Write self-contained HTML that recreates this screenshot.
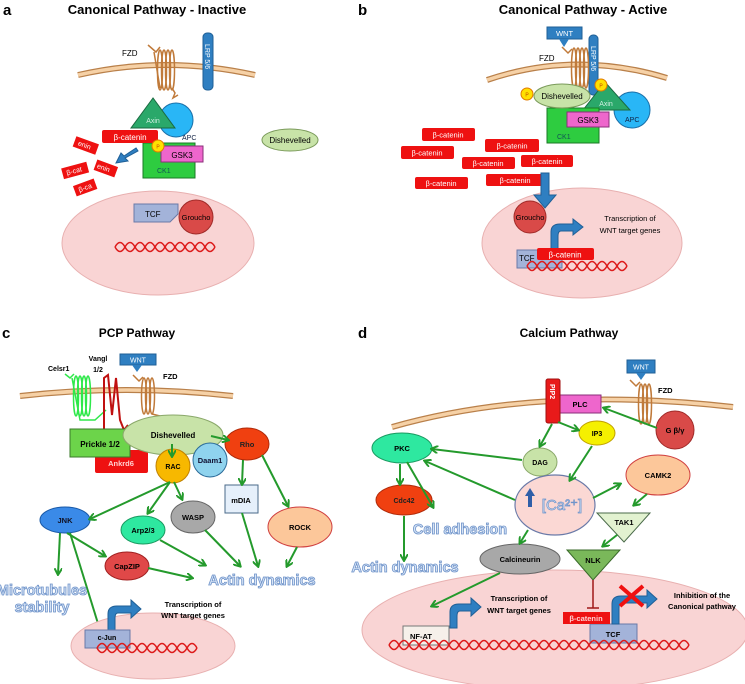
<!DOCTYPE html>
<html><head><meta charset="utf-8"><style>
html,body{margin:0;padding:0;background:#fff}
svg{display:block}
text{font-family:"Liberation Sans",sans-serif}
.b{font-weight:bold}
.ad{font-weight:bold;font-size:14.5px;fill:#d6e4f7;stroke:#6f93c9;stroke-width:.8}
.g{stroke:#249a2c;stroke-width:2;fill:none;marker-end:url(#ah)}
.dna{fill:none;stroke:#dd1a1a;stroke-width:1.5}
</style></head><body>
<svg width="745" height="684" viewBox="0 0 745 684" xmlns="http://www.w3.org/2000/svg">
<defs>
<marker id="ah" markerWidth="8" markerHeight="8" refX="6" refY="4" orient="auto" markerUnits="userSpaceOnUse"><path d="M0,0 L7,4 L0,8" fill="none" stroke="#249a2c" stroke-width="2"/></marker>
<path id="w10" d="M0,0 q5,-9 10,0 t10,0 t10,0 t10,0 t10,0 t10,0 t10,0 t10,0 t10,0 t10,0"/>
<path id="w10b" d="M0,0 q5,9 10,0 t10,0 t10,0 t10,0 t10,0 t10,0 t10,0 t10,0 t10,0 t10,0"/>
</defs>

<!-- ===== Panel a ===== -->
<text x="3" y="15" class="b" font-size="15">a</text>
<text x="157" y="14" class="b" font-size="13" text-anchor="middle">Canonical Pathway - Inactive</text>
<path d="M78,75 Q165,55 255,75" stroke="#b9804a" stroke-width="6" fill="none"/>
<path d="M78,75 Q165,55 255,75" stroke="#f6d1a6" stroke-width="3.5" fill="none"/>
<text x="122" y="56" font-size="8">FZD</text>
<g fill="none" stroke="#c07a3a" stroke-width="1.5">
<path d="M148,45 L156,52 L160,47"/>
<ellipse cx="160" cy="70" rx="2.5" ry="20"/><ellipse cx="164" cy="70" rx="2.5" ry="20"/><ellipse cx="168" cy="70" rx="2.5" ry="20"/><ellipse cx="172" cy="70" rx="2.5" ry="20"/>
<path d="M154,52 L160,88 M172,88 L175,93 L173,98 L178,95"/>
</g>
<rect x="203" y="33" width="10" height="57" rx="4" fill="#2f7fc1" stroke="#1f5f96"/>
<text transform="translate(205,44) rotate(90)" font-size="7" fill="#fff">LRP 5/6</text>
<circle cx="176" cy="120" r="17" fill="#29b6f6" stroke="#1a6fa8"/>
<polygon points="153,98 131,128 175,128" fill="#2aa86a" stroke="#1a6a40"/>
<text x="153" y="123" font-size="7" fill="#cfeee0" text-anchor="middle">Axin</text>
<rect x="143" y="143" width="52" height="35" fill="#2ecc40" stroke="#1b7a26"/>
<text x="157" y="173" font-size="7" fill="#155">CK1</text>
<rect x="161" y="146" width="42" height="16" fill="#ee66cc" stroke="#8a2f7a"/>
<text x="182" y="158" font-size="8" text-anchor="middle">GSK3</text>
<text x="182" y="140" font-size="7" fill="#124">APC</text>
<rect x="102" y="130" width="56" height="13" rx="2" fill="#ee1111"/>
<text x="130" y="140" font-size="8" fill="#fff" text-anchor="middle">β-catenin</text>
<circle cx="158" cy="146" r="6" fill="#ffe000" stroke="#e07a00"/>
<text x="158" y="148.5" font-size="5" text-anchor="middle" fill="#c04000">P</text>
<path d="M136,148 L124,156 L121,153 L116,163 L128,161 L125,158 L138,151 Z" fill="#2f7fc1" stroke="#1f5f96"/>
<g fill="#ee1111"><rect x="74" y="140" width="24" height="11" transform="rotate(20 86 145)"/><rect x="62" y="165" width="26" height="11" transform="rotate(-15 75 170)"/><rect x="95" y="163" width="22" height="11" transform="rotate(20 106 168)"/><rect x="74" y="182" width="22" height="11" transform="rotate(-20 85 187)"/></g>
<g font-size="7" fill="#fff"><text x="78" y="148" transform="rotate(20 86 145)">enin</text><text x="66" y="173" transform="rotate(-15 75 170)">β-cat</text><text x="97" y="171" transform="rotate(20 106 168)">enin</text><text x="78" y="190" transform="rotate(-20 85 187)">β-ca</text></g>
<ellipse cx="290" cy="140" rx="28" ry="11" fill="#c8e3a8" stroke="#7a9a5a"/>
<text x="290" y="143" font-size="8" text-anchor="middle">Dishevelled</text>
<ellipse cx="158" cy="243" rx="96" ry="52" fill="#f9d4d4" stroke="#e8b0b0"/>
<path d="M134,204 L178,204 L178,214 L170,222 L134,222 Z" fill="#a3b3d9" stroke="#6a7aa8"/>
<text x="145" y="217" font-size="8">TCF</text>
<circle cx="196" cy="217" r="17" fill="#d94a48" stroke="#a02a28"/>
<text x="196" y="220" font-size="7.5" text-anchor="middle">Groucho</text>
<g class="dna" transform="translate(115,247)"><use href="#w10"/><use href="#w10b"/></g>

<!-- ===== Panel b ===== -->
<text x="358" y="15" class="b" font-size="15">b</text>
<text x="583" y="14" class="b" font-size="13" text-anchor="middle">Canonical Pathway - Active</text>
<path d="M487,80 Q575,50 667,78" stroke="#b9804a" stroke-width="6" fill="none"/>
<path d="M487,80 Q575,50 667,78" stroke="#f6d1a6" stroke-width="3.5" fill="none"/>
<rect x="547" y="27" width="35" height="12" fill="#2f7fc1" stroke="#1f5f96"/>
<text x="564.5" y="36" font-size="7.5" fill="#fff" text-anchor="middle">WNT</text>
<polygon points="559,39 569,39 564,47" fill="#2f7fc1"/>
<rect x="589" y="35" width="9" height="60" rx="4" fill="#2f7fc1" stroke="#1f5f96"/>
<text transform="translate(591,46) rotate(90)" font-size="7" fill="#fff">LRP 5/6</text>
<text x="539" y="61" font-size="8">FZD</text>
<g fill="none" stroke="#c07a3a" stroke-width="1.5">
<path d="M562,47 L568,53 L572,49"/>
<ellipse cx="574" cy="68" rx="2.5" ry="20"/><ellipse cx="578" cy="68" rx="2.5" ry="20"/><ellipse cx="582" cy="68" rx="2.5" ry="20"/><ellipse cx="586" cy="68" rx="2.5" ry="20"/>
</g>
<circle cx="632" cy="110" r="18" fill="#29b6f6" stroke="#1a6fa8"/>
<text x="625" y="122" font-size="7" fill="#124">APC</text>
<polygon points="605,82 583,110 630,110" fill="#2aa86a" stroke="#1a6a40"/>
<text x="606" y="106" font-size="7" fill="#cfeee0" text-anchor="middle">Axin</text>
<rect x="547" y="108" width="52" height="35" fill="#2ecc40" stroke="#1b7a26"/>
<text x="557" y="139" font-size="7" fill="#155">CK1</text>
<rect x="567" y="112" width="42" height="15" fill="#ee66cc" stroke="#8a2f7a"/>
<text x="588" y="123" font-size="8" text-anchor="middle">GSK3</text>
<ellipse cx="562" cy="96" rx="28" ry="12" fill="#c8e3a8" stroke="#7a9a5a"/>
<text x="562" y="99" font-size="8" text-anchor="middle">Dishevelled</text>
<circle cx="527" cy="94" r="6" fill="#ffe000" stroke="#e07a00"/><text x="527" y="96.5" font-size="5" text-anchor="middle" fill="#c04000">P</text>
<circle cx="601" cy="85" r="6" fill="#ffe000" stroke="#e07a00"/><text x="601" y="87.5" font-size="5" text-anchor="middle" fill="#c04000">P</text>
<g fill="#ee1111"><rect x="422" y="128" width="53" height="13" rx="2"/><rect x="401" y="146" width="53" height="13" rx="2"/><rect x="485" y="139" width="54" height="13" rx="2"/><rect x="462" y="157" width="53" height="12" rx="2"/><rect x="521" y="155" width="52" height="12" rx="2"/><rect x="415" y="177" width="53" height="12" rx="2"/><rect x="486" y="174" width="58" height="12" rx="2"/></g>
<g font-size="7.5" fill="#fff" text-anchor="middle"><text x="448" y="137.5">β-catenin</text><text x="427" y="155.5">β-catenin</text><text x="512" y="148.5">β-catenin</text><text x="488" y="166">β-catenin</text><text x="547" y="164">β-catenin</text><text x="441" y="186">β-catenin</text><text x="515" y="183">β-catenin</text></g>
<ellipse cx="582" cy="243" rx="100" ry="55" fill="#f9d4d4" stroke="#e8b0b0"/>
<path d="M541,173 L549,173 L549,195 L556,195 L545,208 L534,195 L541,195 Z" fill="#2f7fc1" stroke="#1f5f96"/>
<circle cx="530" cy="217" r="16" fill="#d94a48" stroke="#a02a28"/>
<text x="530" y="220" font-size="7.5" text-anchor="middle">Groucho</text>
<path d="M551,250 L551,232 Q551,224 560,224 L573,224 L573,219 L583,227 L573,235 L573,231 L561,231 Q558,231 558,236 L558,250 Z" fill="#2f7fc1" stroke="#1f5f96"/>
<text x="630" y="221" font-size="7.5" text-anchor="middle">Transcription of</text>
<text x="630" y="233" font-size="7.5" text-anchor="middle">WNT target genes</text>
<rect x="517" y="250" width="45" height="18" fill="#a3b3d9" stroke="#6a7aa8"/>
<text x="519" y="261" font-size="8">TCF</text>
<g class="dna" transform="translate(527,266)"><use href="#w10"/><use href="#w10b"/></g>
<rect x="537" y="248" width="57" height="12" rx="2" fill="#ee1111"/>
<text x="565" y="257.5" font-size="8" fill="#fff" text-anchor="middle">β-catenin</text>

<!-- ===== Panel c ===== -->
<text x="2" y="338" class="b" font-size="15">c</text>
<text x="137" y="337" class="b" font-size="12" text-anchor="middle">PCP Pathway</text>
<path d="M20,396 Q125,384 233,396" stroke="#b9804a" stroke-width="6" fill="none"/>
<path d="M20,396 Q125,384 233,396" stroke="#f6d1a6" stroke-width="3.5" fill="none"/>
<text x="48" y="371" class="b" font-size="7">Celsr1</text>
<text x="98" y="361" class="b" font-size="7" text-anchor="middle">Vangl</text>
<text x="98" y="372" class="b" font-size="7" text-anchor="middle">1/2</text>
<rect x="120" y="354" width="36" height="11" fill="#2f7fc1" stroke="#1f5f96"/>
<text x="138" y="362.5" font-size="7" fill="#fff" text-anchor="middle">WNT</text>
<polygon points="132,365 142,365 137,372" fill="#2f7fc1"/>
<text x="163" y="379" class="b" font-size="7.5">FZD</text>
<g fill="none" stroke="#2ee84a" stroke-width="1.5">
<path d="M65,374 L70,378 L74,374"/>
<ellipse cx="76" cy="396" rx="2.5" ry="20"/><ellipse cx="80" cy="396" rx="2.5" ry="20"/><ellipse cx="84" cy="396" rx="2.5" ry="20"/><ellipse cx="88" cy="396" rx="2.5" ry="20"/>
<path d="M72,378 L80,420 L95,420 L106,410"/>
</g>
<g fill="none" stroke="#c01010" stroke-width="2">
<path d="M104,436 L104,378 L108,375 L112,415 L116,378 L120,420 L124,430 L128,425"/>
</g>
<g fill="none" stroke="#c07a3a" stroke-width="1.5">
<path d="M133,375 L139,381 L143,377"/>
<ellipse cx="144" cy="396" rx="2.5" ry="18"/><ellipse cx="148" cy="396" rx="2.5" ry="18"/><ellipse cx="152" cy="396" rx="2.5" ry="18"/>
<path d="M152,414 L160,416 L162,422"/>
</g>
<rect x="95" y="450" width="53" height="23" rx="2" fill="#ee1111"/>
<text x="121" y="466" class="b" font-size="7.5" fill="#ffd0d0" text-anchor="middle">Ankrd6</text>
<rect x="70" y="429" width="60" height="28" fill="#6cd44a" stroke="#3a7a2a"/>
<text x="100" y="447" class="b" font-size="8" text-anchor="middle">Prickle 1/2</text>
<ellipse cx="173" cy="435" rx="50" ry="20" fill="#c8e3a8" stroke="#8aa86a"/>
<text x="173" y="438" class="b" font-size="8" text-anchor="middle">Dishevelled</text>
<ellipse cx="247" cy="444" rx="22" ry="16" fill="#f04010" stroke="#b02a0a"/>
<text x="247" y="447" class="b" font-size="7.5" text-anchor="middle" fill="#222">Rho</text>
<circle cx="210" cy="460" r="17" fill="#8fd3ee" stroke="#2a6a98"/>
<text x="210" y="463" class="b" font-size="7.5" text-anchor="middle" fill="#113">Daam1</text>
<circle cx="173" cy="466" r="17" fill="#f7b800" stroke="#c08000"/>
<text x="173" y="469" class="b" font-size="7" text-anchor="middle">RAC</text>
<rect x="225" y="485" width="33" height="28" fill="#e6f0fb" stroke="#4a6a8a"/>
<text x="241" y="503" class="b" font-size="7.5" text-anchor="middle">mDIA</text>
<ellipse cx="300" cy="527" rx="32" ry="20" fill="#fcc79a" stroke="#d04040"/>
<text x="300" y="530" class="b" font-size="7.5" text-anchor="middle">ROCK</text>
<ellipse cx="65" cy="520" rx="25" ry="13" fill="#3a8ae8" stroke="#1a5aa8"/>
<text x="65" y="523" class="b" font-size="7.5" text-anchor="middle" fill="#112">JNK</text>
<ellipse cx="143" cy="530" rx="22" ry="14" fill="#2ee8a0" stroke="#1a9a60"/>
<text x="143" y="533" class="b" font-size="7.5" text-anchor="middle">Arp2/3</text>
<ellipse cx="193" cy="517" rx="22" ry="16" fill="#a8a8a8" stroke="#666"/>
<text x="193" y="520" class="b" font-size="7.5" text-anchor="middle">WASP</text>
<ellipse cx="127" cy="566" rx="22" ry="14" fill="#e04848" stroke="#a02020"/>
<text x="127" y="569" class="b" font-size="7.5" text-anchor="middle">CapZIP</text>
<path class="g" d="M211,436 L228,440"/>
<path class="g" d="M172,444 L172,456"/>
<path class="g" d="M170,482 L90,519"/>
<path class="g" d="M170,482 L148,513"/>
<path class="g" d="M174,482 L182,499"/>
<path class="g" d="M243,460 L242,484"/>
<path class="g" d="M262,455 L288,506"/>
<path class="g" d="M60,533 L58,574"/>
<path class="g" d="M67,533 L105,556"/>
<path class="g" d="M70,533 L100,630"/>
<path class="g" d="M160,540 L205,565"/>
<path class="g" d="M205,530 L240,566"/>
<path class="g" d="M242,513 L258,566"/>
<path class="g" d="M297,547 L287,566"/>
<path class="g" d="M148,568 L192,578"/>
<text x="262" y="585" class="ad" text-anchor="middle">Actin dynamics</text>
<text x="42" y="595" class="ad" text-anchor="middle" font-size="13.5">Microtubules</text>
<text x="42" y="612" class="ad" text-anchor="middle" font-size="13.5">stability</text>
<ellipse cx="153" cy="646" rx="82" ry="33" fill="#f9d4d4" stroke="#e8b0b0"/>
<path d="M108,632 L108,614 Q108,606 117,606 L131,606 L131,600 L141,609 L131,618 L131,613 L118,613 Q115,613 115,618 L115,632 Z" fill="#2f7fc1" stroke="#1f5f96"/>
<text x="193" y="607" class="b" font-size="7.5" text-anchor="middle">Transcription of</text>
<text x="193" y="618" class="b" font-size="7.5" text-anchor="middle">WNT target genes</text>
<rect x="85" y="630" width="45" height="18" fill="#a3b3d9" stroke="#6a7aa8"/>
<text x="107" y="640" class="b" font-size="7" text-anchor="middle">c-Jun</text>
<g class="dna" transform="translate(97,648)"><use href="#w10"/><use href="#w10b"/></g>

<!-- ===== Panel d ===== -->
<text x="358" y="338" class="b" font-size="15">d</text>
<text x="569" y="337" class="b" font-size="12" text-anchor="middle">Calcium Pathway</text>
<ellipse cx="555" cy="630" rx="193" ry="60" fill="#f9d4d4" stroke="#e8b0b0"/>
<path d="M392,427 Q540,385 733,407" stroke="#b9804a" stroke-width="6" fill="none"/>
<path d="M392,427 Q540,385 733,407" stroke="#f6d1a6" stroke-width="3.5" fill="none"/>
<rect x="627" y="360" width="28" height="13" fill="#2f7fc1" stroke="#1f5f96"/>
<text x="641" y="369.5" font-size="7" fill="#fff" text-anchor="middle">WNT</text>
<polygon points="636,373 646,373 641,380" fill="#2f7fc1"/>
<text x="658" y="393" class="b" font-size="7.5">FZD</text>
<g fill="none" stroke="#c07a3a" stroke-width="1.5">
<path d="M630,380 L636,386 L640,382"/>
<ellipse cx="641" cy="404" rx="2.5" ry="20"/><ellipse cx="645" cy="404" rx="2.5" ry="20"/><ellipse cx="649" cy="404" rx="2.5" ry="20"/>
</g>
<rect x="560" y="395" width="41" height="18" fill="#ee66cc" stroke="#8a2f7a"/>
<text x="580" y="407" class="b" font-size="7.5" text-anchor="middle">PLC</text>
<rect x="546" y="379" width="14" height="44" rx="2" fill="#e81a1a" stroke="#a01010"/>
<text transform="translate(550,384) rotate(90)" class="b" font-size="7" fill="#fff">PIP2</text>
<circle cx="675" cy="430" r="19" fill="#d94a48" stroke="#a02a28"/>
<text x="675" y="433" class="b" font-size="7.5" text-anchor="middle">G β/γ</text>
<ellipse cx="597" cy="433" rx="18" ry="12" fill="#f5f000" stroke="#c0a000"/>
<text x="597" y="436" class="b" font-size="7" text-anchor="middle">IP3</text>
<ellipse cx="540" cy="462" rx="17" ry="14" fill="#c8e3a8" stroke="#8aa86a"/>
<text x="540" y="465" class="b" font-size="7" text-anchor="middle">DAG</text>
<ellipse cx="402" cy="448" rx="30" ry="15" fill="#2ee8a0" stroke="#1a9a60"/>
<text x="402" y="451" class="b" font-size="7.5" text-anchor="middle">PKC</text>
<ellipse cx="404" cy="500" rx="28" ry="15" fill="#f04010" stroke="#b02a0a"/>
<text x="404" y="503" class="b" font-size="7" text-anchor="middle" fill="#222">Cdc42</text>
<ellipse cx="658" cy="475" rx="32" ry="20" fill="#fcc79a" stroke="#d04040"/>
<text x="658" y="478" class="b" font-size="7.5" text-anchor="middle">CAMK2</text>
<ellipse cx="555" cy="505" rx="40" ry="30" fill="#fbd8d4" stroke="#6a7aa8" stroke-width="1.2"/>
<path d="M528,507 L528,496 L525,496 L530,488 L535,496 L532,496 L532,507 Z" fill="#2f5fa8"/>
<text x="562" y="510" font-size="15" fill="#d6e4f7" stroke="#6f93c9" stroke-width=".7" text-anchor="middle">[Ca²⁺]</text>
<polygon points="597,513 650,513 624,542" fill="#e2f2d0" stroke="#4a6a4a"/>
<text x="624" y="525" class="b" font-size="7.5" text-anchor="middle">TAK1</text>
<polygon points="567,550 620,550 593,580" fill="#7ab85a" stroke="#3a6a2a"/>
<text x="593" y="563" class="b" font-size="7.5" text-anchor="middle">NLK</text>
<ellipse cx="520" cy="559" rx="40" ry="15" fill="#a8a8a8" stroke="#666"/>
<text x="520" y="562" class="b" font-size="7.5" text-anchor="middle">Calcineurin</text>
<path class="g" d="M552,424 L540,446"/>
<path class="g" d="M558,422 L578,430"/>
<path class="g" d="M657,428 L604,408"/>
<path class="g" d="M522,460 L432,449"/>
<path class="g" d="M592,446 L570,480"/>
<path class="g" d="M515,500 L425,461"/>
<path class="g" d="M400,464 L400,484"/>
<path class="g" d="M407,462 L433,507"/>
<path class="g" d="M404,516 L404,560"/>
<path class="g" d="M593,498 L620,484"/>
<path class="g" d="M647,494 L634,505"/>
<path class="g" d="M617,535 L603,546"/>
<path class="g" d="M528,530 L520,543"/>
<path class="g" d="M500,573 L432,606"/>
<text x="460" y="534" class="ad" text-anchor="middle" font-size="13.5">Cell adhesion</text>
<text x="405" y="572" class="ad" text-anchor="middle">Actin dynamics</text>
<path d="M450,628 L450,612 Q450,604 459,604 L471,604 L471,598 L481,607 L471,616 L471,611 L460,611 Q457,611 457,616 L457,628 Z" fill="#2f7fc1" stroke="#1f5f96"/>
<text x="519" y="601" class="b" font-size="7.5" text-anchor="middle">Transcription of</text>
<text x="519" y="613" class="b" font-size="7.5" text-anchor="middle">WNT target genes</text>
<rect x="403" y="626" width="46" height="19" fill="#f6f0ea" stroke="#777"/>
<text x="410" y="639" class="b" font-size="7.5">NF-AT</text>
<path d="M593,580 L593,608 M587,608 L599,608" stroke="#a01818" stroke-width="1.5" fill="none"/>
<rect x="590" y="624" width="47" height="19" fill="#a3b3d9" stroke="#6a7aa8"/>
<text x="613" y="637" class="b" font-size="7.5" text-anchor="middle">TCF</text>
<rect x="563" y="612" width="47" height="12" fill="#ee1111"/>
<text x="586" y="621" class="b" font-size="7.5" fill="#ffd0d0" text-anchor="middle">β-catenin</text>
<path d="M612,624 L612,604 Q612,596 621,596 L647,596 L647,590 L657,599 L647,608 L647,603 L622,603 Q619,603 619,608 L619,624 Z" fill="#2f7fc1" stroke="#1f5f96"/>
<path d="M620,586 L643,606 M643,586 L620,606" stroke="#f01010" stroke-width="4"/>
<text x="702" y="598" class="b" font-size="7.5" text-anchor="middle">Inhibition of the</text>
<text x="702" y="609" class="b" font-size="7.5" text-anchor="middle">Canonical pathway</text>
<g class="dna" transform="translate(389,645)"><use href="#w10"/><use href="#w10b"/><use href="#w10" x="100"/><use href="#w10b" x="100"/><use href="#w10" x="200"/><use href="#w10b" x="200"/></g>
</svg>
</body></html>
